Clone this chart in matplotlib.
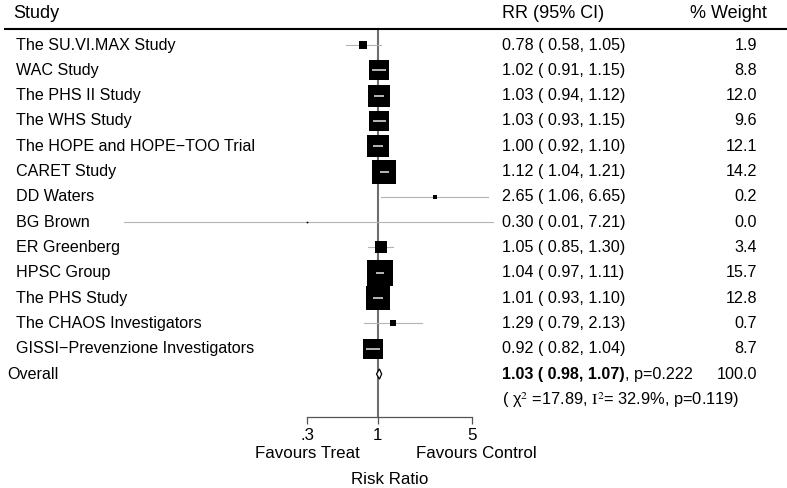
import numpy as np
import matplotlib
matplotlib.use('Agg')
import matplotlib.pyplot as plt

plt.rcParams['font.family'] = ['Liberation Sans', 'DejaVu Sans']
plt.rcParams['mathtext.fontset'] = 'stix'

# データ
studies = ['The SU.VI.MAX Study', 'WAC Study', 'The PHS II Study', 'The WHS Study',
           'The HOPE and HOPE\u2212TOO Trial', 'CARET Study', 'DD Waters', 'BG Brown',
           'ER Greenberg', 'HPSC Group', 'The PHS Study', 'The CHAOS Investigators',
           'GISSI\u2212Prevenzione Investigators']
rr = np.array([0.78, 1.02, 1.03, 1.03, 1.00, 1.12, 2.65, 0.30, 1.05, 1.04, 1.01, 1.29, 0.92])
lo = np.array([0.58, 0.91, 0.94, 0.93, 0.92, 1.04, 1.06, 0.013, 0.85, 0.97, 0.93, 0.79, 0.82])
hi = np.array([1.05, 1.15, 1.12, 1.15, 1.10, 1.21, 6.65, 7.21, 1.30, 1.11, 1.10, 2.13, 1.04])
weight = np.array([1.9, 8.8, 12.0, 9.6, 12.1, 14.2, 0.2, 0.0, 3.4, 15.7, 12.8, 0.7, 8.7])

overall_rr, overall_lo, overall_hi = 1.03, 0.98, 1.07
overall_p = 0.222
overall_weight = 100.0
het_chi2, het_i2, het_p = 17.89, 32.9, 0.119

tick_vals = [0.3, 1, 5]
tick_labels = ['.3', '1', '5']

# レイアウト (px)
W, H = 787, 488
px_per_ln = 58.45
x_null_px = 377.7
row0_px = 45.0
row_h = 25.31

fig = plt.figure(figsize=(W / 100, H / 100), dpi=100)
ax = fig.add_axes([0, 0, 1, 1])
ax.set_xscale('log')
ax.set_xlim(np.exp(-x_null_px / px_per_ln), np.exp((W - x_null_px) / px_per_ln))
ax.set_ylim((H - row0_px) / row_h, -row0_px / row_h)
for s in ['top', 'left', 'right']:
    ax.spines[s].set_visible(False)
ax.set_yticks([])


def row(py):
    return (py - row0_px) / row_h


def fx(px):
    return px / W


yt = ax.get_yaxis_transform()
n = len(studies)
overall_row = n

# ヘッダー
ax.text(fx(13), row(13), 'Study', transform=yt, fontsize=13, va='center')
ax.text(fx(502), row(13), 'RR (95% CI)', transform=yt, fontsize=13, va='center')
ax.text(fx(767), row(13), '% Weight', transform=yt, fontsize=13, va='center', ha='right')
ax.plot([fx(4), 1], [row(29.3)] * 2, transform=yt, color='black', lw=1.5, solid_capstyle='butt')

# 帰無線
ax.plot([1, 1], [row(29.3), row(417)], color='#6e6e6e', lw=1.5, zorder=1)

# 各研究
for i in range(n):
    side_px = max(6.5 * np.sqrt(weight[i]), 1.6)
    if weight[i] > 0:
        side_px = max(side_px, 3.2)
    half = side_px / 2 / px_per_ln
    inside = lo[i] >= rr[i] * np.exp(-half) and hi[i] <= rr[i] * np.exp(half)
    if not inside:
        ax.plot([lo[i], hi[i]], [i, i], color='#b4b4b4', lw=0.8, zorder=2)
    ax.plot(rr[i], i, marker='s', ms=side_px * 0.72, color='black', mew=0, zorder=3)
    if inside:
        ax.plot([lo[i], hi[i]], [i, i], color='#e8e8e8', lw=1.1, zorder=4,
                solid_capstyle='butt')
    ax.text(fx(16), i, studies[i], transform=yt, fontsize=11.6, va='center')
    ax.text(fx(502), i, f'{rr[i]:.2f} ( {lo[i]:.2f}, {hi[i]:.2f})', transform=yt,
            fontsize=11.6, va='center')
    ax.text(fx(757), i, f'{weight[i]:.1f}', transform=yt, fontsize=11.6, va='center',
            ha='right')

# 全体
dh = 0.2
ax.fill([overall_lo, overall_rr, overall_hi, overall_rr],
        [overall_row, overall_row - dh, overall_row, overall_row + dh],
        facecolor='white', edgecolor='black', lw=0.9, zorder=5)
ax.text(fx(7), overall_row, 'Overall', transform=yt, fontsize=11.6, va='center')
t = ax.text(fx(502), overall_row, f'{overall_rr:.2f} ( {overall_lo:.2f}, {overall_hi:.2f})',
            transform=yt, fontsize=11.6, va='center', fontweight='bold')
ax.annotate(f', p={overall_p:.3f}', xycoords=t, xy=(1, 0.5), va='center',
            fontsize=11.6)
ax.text(fx(757), overall_row, f'{overall_weight:.1f}', transform=yt,
        fontsize=11.6, va='center', ha='right')
ax.text(fx(502), row(400),
        rf'( χ$^{{2}}$ ={het_chi2:.2f}, $\mathrm{{I}}^{{2}}$= {het_i2:.1f}%, p={het_p:.3f})',
        transform=yt, fontsize=11.8, va='center')

# x軸
ax.spines['bottom'].set_position(('data', row(417)))
ax.spines['bottom'].set_bounds(tick_vals[0], tick_vals[-1])
ax.spines['bottom'].set_color('#555555')
ax.spines['bottom'].set_linewidth(0.9)
ax.set_xticks(tick_vals)
ax.set_xticklabels(tick_labels, fontsize=12.2)
ax.xaxis.set_minor_locator(matplotlib.ticker.NullLocator())
ax.tick_params(axis='x', direction='out', length=5, width=0.9, color='#555555', pad=3)

ax.text(0.3, row(453), 'Favours Treat', fontsize=12.2, ha='center', va='center')
ax.text(5.4, row(453), 'Favours Control', fontsize=12.2, ha='center', va='center')
ax.text(np.sqrt(0.3 * 5), row(479), 'Risk Ratio', fontsize=12.2, ha='center', va='center')

fig.savefig('out.png', dpi=100)
